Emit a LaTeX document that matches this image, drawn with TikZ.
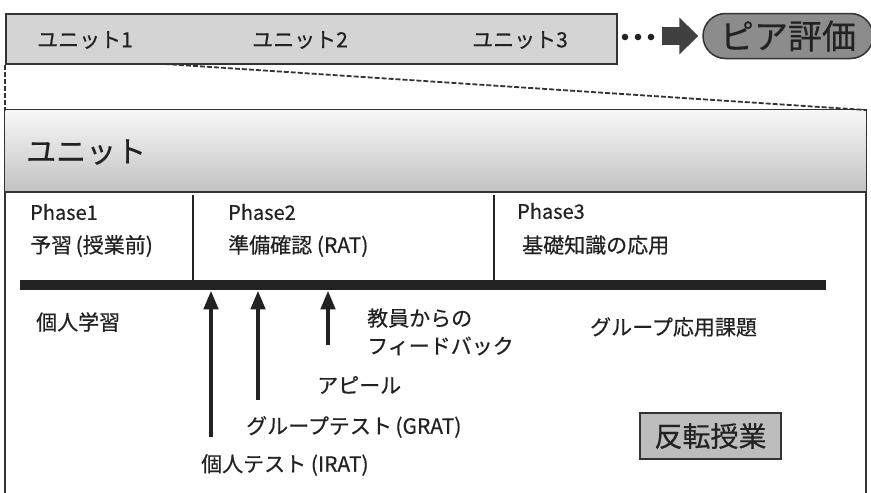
\documentclass[tikz,border=0pt]{standalone}
\usepackage{fontspec}
\setmainfont{Noto Sans CJK JP}[FakeBold=0.5]
\usetikzlibrary{arrows.meta,shapes.misc}
\definecolor{ink}{HTML}{222222}
\definecolor{edge}{HTML}{333333}
\definecolor{barfill}{HTML}{D4D4D4}
\definecolor{peerfill}{HTML}{8C8C8C}
\definecolor{flipfill}{HTML}{BDBDBD}
\definecolor{bigarrow}{HTML}{404040}
\begin{document}
\begin{tikzpicture}[x=1pt,y=-1pt,
  txt/.style={inner sep=0pt,text=ink,font=\fontsize{21}{24}\selectfont},
  lefttxt/.style={txt,anchor=west},
  phasetxt/.style={lefttxt,font=\fontsize{20}{24}\selectfont},
  uparrow/.style={line width=4.5pt,draw=ink,-{Triangle[length=19pt,width=14pt]}},
  dashline/.style={draw=edge,line width=1.8pt,dash pattern=on 5pt off 2pt}]
\useasboundingbox (0,0) rectangle (871,493);
% top bar
\node[draw=edge,line width=1.5pt,fill=barfill,minimum width=611pt,minimum height=50pt,inner sep=0pt,anchor=north west] (topbar) at (5,13) {};
\node[txt] (u1) at (85,40) {ユニット1};
\node[txt] (u2) at (300,40) {ユニット2};
\node[txt] (u3) at (520,40) {ユニット3};
% dots
\fill[ink] (625,37) circle (3.3pt) (638,37) circle (3.3pt) (651,37) circle (3.3pt);
\coordinate (arrstart) at (662,36);
% peer
\node[rounded rectangle,draw=edge,line width=1.5pt,fill=peerfill,minimum width=170pt,minimum height=45pt,inner sep=0pt,text=ink,font=\fontsize{34}{38}\selectfont] (peer) at (788,36) {ピア評価};
\draw[bigarrow,line width=18pt,-{Triangle[length=19pt,width=36pt]},shorten >=4pt] (arrstart) -- (peer.west);
% unit box
\coordinate (boxtl) at (5,110);
\coordinate (boxtr) at (866,110);
\draw[edge,line width=1.3pt] (5,493) -- (boxtl) -- (boxtr) -- (866,493);
\shade[top color=black!3,bottom color=black!24] (5.7,110.7) rectangle (865.3,192);
\draw[edge,line width=1.3pt] (5,192) -- (866,192);
\node[lefttxt,font=\fontsize{30}{34}\selectfont] (unitttl) at (26,152) {ユニット};
% dashed
\draw[dashline] (topbar.south west) -- (boxtl);
\draw[dashline] (165,64) -- (boxtr);
% phases
\node[phasetxt] (p1) at (30,212) {Phase1};
\node[lefttxt] (p1b) at (30,246) {予習\,(授業前)};
\node[phasetxt] (p2) at (228,212) {Phase2};
\node[lefttxt] (p2b) at (228,246) {準備確認 (RAT)};
\node[phasetxt] (p3) at (517,211) {Phase3};
\node[lefttxt] (p3b) at (522,245) {基礎知識の応用};
\draw[ink,line width=1.2pt] (193,195) -- (193,282);
\draw[ink,line width=1.2pt] (494,195) -- (494,282);
\node[fill=ink,minimum width=806pt,minimum height=10pt,inner sep=0pt,anchor=north west] (bar) at (20,280) {};
% lower
\node[lefttxt] (ind) at (36,322) {個人学習};
\coordinate (a1) at (211,437);
\coordinate (a2) at (258,400);
\coordinate (a3) at (328,345);
\draw[uparrow] (a1) -- (a1 |- bar.south);
\draw[uparrow] (a2) -- (a2 |- bar.south);
\draw[uparrow] (a3) -- (a3 |- bar.south);
\node[lefttxt] (fb1) at (367,318) {教員からの};
\node[lefttxt] (fb2) at (367,346) {フィードバック};
\node[lefttxt] (app) at (317,385) {アピール};
\node[lefttxt] (grat) at (246,427) {グループテスト\,(GRAT)};
\node[lefttxt] (irat) at (201,465) {個人テスト (IRAT)};
\node[lefttxt] (grp) at (590,327) {グループ応用課題};
\node[draw=edge,line width=1.5pt,fill=flipfill,minimum width=141pt,minimum height=46pt,inner sep=0pt,text=ink,font=\fontsize{28}{32}\selectfont] (flip) at (710.5,436) {反転授業};
\end{tikzpicture}
\end{document}
